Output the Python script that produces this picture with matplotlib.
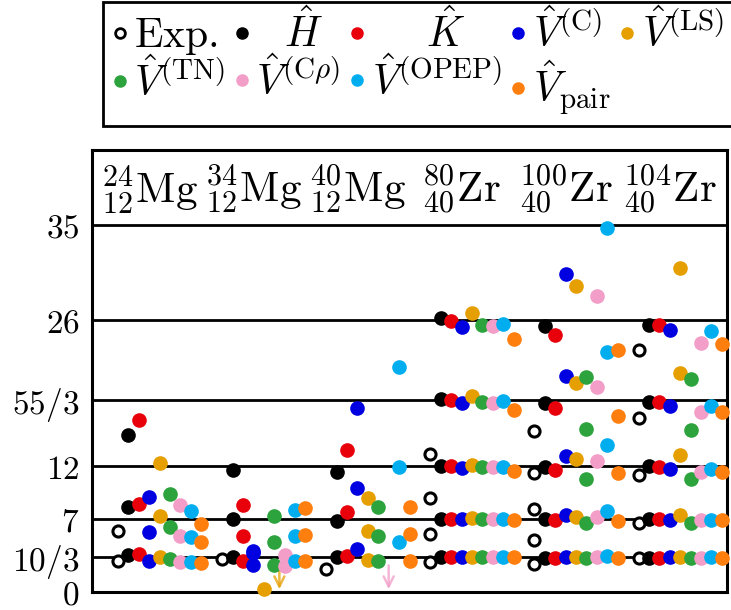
import numpy as np
import matplotlib.pyplot as plt
from matplotlib.lines import Line2D

plt.rcParams['mathtext.fontset'] = 'cm'
plt.rcParams['font.family'] = 'serif'
plt.rcParams['font.serif'] = ['DejaVu Serif']

# nuclei shown as columns
nuclei = [r'${}^{24}_{12}\mathrm{Mg}$', r'${}^{34}_{12}\mathrm{Mg}$', r'${}^{40}_{12}\mathrm{Mg}$',
          r'${}^{80}_{40}\mathrm{Zr}$', r'${}^{100}_{40}\mathrm{Zr}$', r'${}^{104}_{40}\mathrm{Zr}$']

# energy ratios, one list per nucleus
exp_vals = [[5.87, 2.97], [3.13], [2.2], [13.2, 9.0, 5.55, 2.84],
            [15.4, 11.4, 7.9, 4.97, 2.65], [23.1, 16.6, 11.2, 6.63, 3.22]]
h_vals = [[15.0, 8.1, 3.54], [11.67, 6.96, 3.38], [11.5, 6.8, 3.32], [26.2, 18.44, 12.06, 6.99, 3.32],
          [25.4, 18.05, 11.9, 6.96, 3.28], [25.45, 18.1, 12.0, 6.99, 3.28]]
k_vals = [[16.46, 8.42, 3.64], [8.33, 5.39, 2.97], [13.6, 7.6, 3.44], [25.9, 18.3, 12.0, 6.99, 3.32],
          [24.5, 17.6, 11.67, 6.83, 3.28], [25.45, 18.1, 11.95, 6.99, 3.28]]
vc_vals = [[9.06, 5.71, 3.0], [3.95, 3.7, 2.6], [17.6, 9.9, 4.1], [25.3, 18.0, 11.83, 6.99, 3.32],
           [30.4, 20.6, 13.0, 7.37, 3.38], [24.98, 17.8, 11.77, 6.89, 3.3]]
vls_vals = [[12.3, 7.3, 3.38], [0.26], [8.96, 5.84, 3.06], [26.6, 18.7, 12.15, 7.05, 3.32],
            [29.2, 20.0, 12.7, 7.2, 3.33], [30.94, 20.93, 13.05, 7.37, 3.38]]
vtn_vals = [[9.35, 6.16, 3.16], [7.3, 4.75, 2.58], [8.07, 5.39, 2.97], [25.45, 18.1, 11.9, 6.99, 3.32],
            [20.5, 15.6, 10.8, 6.57, 3.22], [20.38, 15.5, 10.78, 6.63, 3.22]]
vcr_vals = [[8.33, 5.39, 2.9], [3.54, 2.49], [], [25.4, 18.05, 11.9, 6.99, 3.32],
            [28.3, 19.55, 12.47, 7.2, 3.33], [23.8, 17.2, 11.48, 6.83, 3.22]]
vopep_vals = [[7.75, 5.23, 2.9], [7.85, 5.36, 2.97], [21.5, 11.9, 4.8], [25.6, 18.2, 11.9, 6.99, 3.32],
              [34.8, 22.9, 14.0, 7.7, 3.44], [24.9, 17.8, 11.74, 6.83, 3.3]]
vpair_vals = [[6.5, 4.82, 2.8], [8.0, 5.45, 2.97], [8.1, 5.52, 3.0], [24.2, 17.4, 11.58, 6.89, 3.3],
              [23.06, 16.84, 11.36, 6.79, 3.22], [23.7, 17.2, 11.5, 6.83, 3.22]]

series = [
    (r'$\mathrm{Exp.}$', exp_vals, 'black'),
    (r'$\enspace\;\hat{H}$', h_vals, 'black'),
    (r'$\quad\enspace\hat{K}$', k_vals, '#e8000b'),
    (r'$\hat{V}^{(\mathrm{C})}$', vc_vals, '#0000e0'),
    (r'$\hat{V}^{(\mathrm{LS})}$', vls_vals, '#e69f00'),
    (r'$\hat{V}^{(\mathrm{TN})}$', vtn_vals, '#2ca33c'),
    (r'$\hat{V}^{(\mathrm{C}\rho)}$', vcr_vals, '#f29ec8'),
    (r'$\hat{V}^{(\mathrm{OPEP})}$', vopep_vals, '#00aeef'),
    (r'$\hat{V}_{\mathrm{pair}}$', vpair_vals, '#ff7f0e'),
]

# ratio levels J(J+1)/6 drawn as horizontal lines
yticks = [0, 10/3, 7, 12, 55/3, 26, 35]
ytick_labels = [r'$0$', r'$10/3$', r'$7$', r'$12$', r'$55/3$', r'$26$', r'$35$']

# values below the range: (nucleus, slot, colour)
arrows = [(1, 5.5, '#e69f00'), (2, 6, '#f29ec8')]

fig = plt.figure(figsize=(7.31, 6.10), dpi=100)
ax = fig.add_axes([92/731, 18/610, 635/731, 442/610])

handles = []
for j, (lab, vals, col) in enumerate(series):
    xs, ys = [], []
    for i, v in enumerate(vals):
        xs += [i * 10 + j] * len(v)
        ys += v
    if j == 0:
        ax.plot(xs, ys, 'o', ms=8, mfc='white', mec='black', mew=2.2, zorder=3, clip_on=False)
        handles.append(Line2D([], [], marker='o', ls='none', ms=7, mfc='white', mec='black', mew=2, label=lab))
    else:
        ax.plot(xs, ys, 'o', ms=9.5, color=col, zorder=3 + j, clip_on=False)
        handles.append(Line2D([], [], marker='o', ls='none', ms=8, color=col, label=lab))

for i, s, col in arrows:
    ax.annotate('', xy=(i * 10 + s, 0), xytext=(i * 10 + s, 2.8),
                arrowprops=dict(arrowstyle='->', color=col, lw=1.8, alpha=0.75, mutation_scale=18),
                zorder=2)

for y in yticks[1:]:
    ax.axhline(y, color='black', lw=2.0, zorder=1)

for i, name in enumerate(nuclei):
    ax.text(i * 10 + 3, 38.4, name, ha='center', va='center', fontsize=31)

ax.set_xlim(-2.5, 58.5)
ax.set_ylim(0, 42.2)
ax.set_xticks([])
ax.set_yticks(yticks)
ax.set_yticklabels(ytick_labels, fontsize=24)
ax.tick_params(axis='y', length=0, pad=9)
for sp in ax.spines.values():
    sp.set_linewidth(2.2)

order = [0, 5, 1, 6, 2, 7, 3, 8, 4]
leg = fig.legend([handles[k] for k in order], [handles[k].get_label() for k in order],
                 ncol=5, loc='upper left', bbox_to_anchor=(103/731, 1 - 2/610),
                 fontsize=30, frameon=True, fancybox=False, framealpha=1, edgecolor='black',
                 handlelength=0.4, handletextpad=0.15, columnspacing=0.2, borderpad=0.2,
                 labelspacing=0.05, borderaxespad=0)
leg.get_frame().set_linewidth(2.0)

fig.savefig('out.png', dpi=100)
